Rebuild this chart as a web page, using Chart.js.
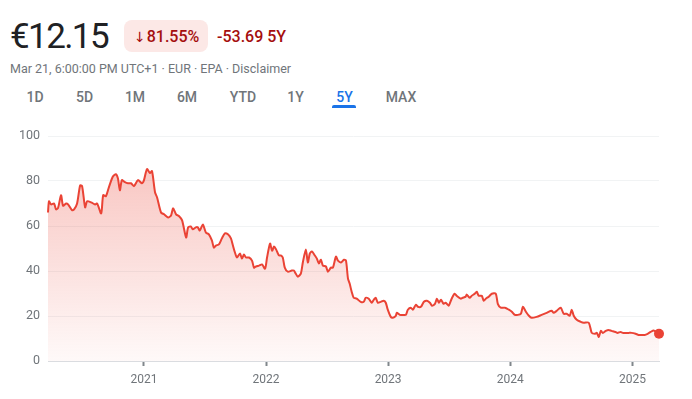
<!DOCTYPE html>
<html>
<head>
<meta charset="utf-8">
<script src="https://cdn.jsdelivr.net/npm/chart.js@4.4.1/dist/chart.umd.min.js"></script>
<style>
  html, body { margin: 0; padding: 0; background: #fff; }
  body { width: 692px; height: 399px; position: relative; overflow: hidden; font-family: Roboto, Arial, sans-serif; }
  .price { position: absolute; left: 10px; top: 16px; font-size: 35px; color: #202124; letter-spacing: -1.6px; }
  .badge { position: absolute; left: 124px; top: 20px; width: 84px; height: 32px; border-radius: 8px; background: #fce8e6; }
  .badge span, .change { position: absolute; top: 27px; font-size: 16px; font-weight: 500; color: #a50e0e; }
  .badge span { left: 10px; top: 7px; }
  .badge .arrow { position: static; font-family: 'DejaVu Sans', sans-serif; font-size: 14px; margin-right: 1px; }
  .change { left: 217px; }
  .meta { position: absolute; left: 10px; top: 61px; font-size: 12.5px; color: #70757a; }
  .tab { position: absolute; top: 89px; font-size: 14px; font-weight: 500; color: #70757a; transform: translateX(-50%); }
  .tab.active { color: #1a73e8; }
  .underline { position: absolute; left: 332px; top: 105px; width: 24px; height: 3px; border-radius: 2px 2px 0 0; background: #1a73e8; }
  .chart-box { position: absolute; left: 0; top: 120px; width: 692px; height: 279px; }
</style>
</head>
<body>
<div class="price">€12.15</div>
<div class="badge"><span><span class="arrow">↓</span>81.55%</span></div>
<div class="change">-53.69 5Y</div>
<div class="meta">Mar 21, 6:00:00 PM UTC+1 · EUR · EPA · Disclaimer</div>
<div id="tabs"></div>
<div class="underline"></div>
<div class="chart-box"><canvas id="priceChart"></canvas></div>

<script>
const RANGE_TABS = ['1D', '5D', '1M', '6M', 'YTD', '1Y', '5Y', 'MAX'];
const TAB_CENTERS = [35, 84.5, 135, 187, 243, 295.5, 344.5, 401];
const ACTIVE_TAB = '5Y';

const START_DATE = '2020-03-20';
const END_DATE = '2025-03-21';
const YEAR_TICKS = [2021, 2022, 2023, 2024, 2025];
const PRICE_TICKS = [0, 20, 40, 60, 80, 100];

// closes
const dates = [
  '2020-03-20', '2020-03-23', '2020-03-29', '2020-04-07', '2020-04-13', '2020-04-19', '2020-04-28', '2020-05-04',
  '2020-05-13', '2020-05-19', '2020-05-31', '2020-06-06', '2020-06-15', '2020-06-24', '2020-06-30', '2020-07-09',
  '2020-07-15', '2020-07-27', '2020-08-08', '2020-08-14', '2020-08-26', '2020-09-01', '2020-09-09', '2020-09-18',
  '2020-09-30', '2020-10-09', '2020-10-15', '2020-10-21', '2020-10-27', '2020-11-05', '2020-11-14', '2020-11-23',
  '2020-12-02', '2020-12-14', '2020-12-26', '2021-01-01', '2021-01-10', '2021-01-19', '2021-01-25', '2021-02-03',
  '2021-02-09', '2021-02-21', '2021-03-02', '2021-03-14', '2021-03-23', '2021-03-29', '2021-04-07', '2021-04-16',
  '2021-04-25', '2021-05-07', '2021-05-13', '2021-05-21', '2021-05-27', '2021-06-05', '2021-06-11', '2021-06-17',
  '2021-06-26', '2021-07-05', '2021-07-14', '2021-07-23', '2021-07-29', '2021-08-04', '2021-08-13', '2021-08-22',
  '2021-08-31', '2021-09-09', '2021-09-18', '2021-09-24', '2021-09-30', '2021-10-06', '2021-10-15', '2021-10-21',
  '2021-10-27', '2021-11-02', '2021-11-11', '2021-11-20', '2021-11-26', '2021-12-02', '2021-12-11', '2021-12-20',
  '2021-12-29', '2022-01-04', '2022-01-13', '2022-01-19', '2022-01-25', '2022-01-31', '2022-02-08', '2022-02-14',
  '2022-02-20', '2022-02-26', '2022-03-07', '2022-03-19', '2022-03-25', '2022-03-31', '2022-04-06', '2022-04-15',
  '2022-04-21', '2022-04-30', '2022-05-06', '2022-05-12', '2022-05-18', '2022-05-27', '2022-06-02', '2022-06-08',
  '2022-06-14', '2022-06-20', '2022-06-29', '2022-07-05', '2022-07-14', '2022-07-20', '2022-07-29', '2022-08-04',
  '2022-08-13', '2022-08-22', '2022-08-28', '2022-09-03', '2022-09-08', '2022-09-14', '2022-09-20', '2022-09-29',
  '2022-10-11', '2022-10-20', '2022-10-26', '2022-11-04', '2022-11-13', '2022-11-19', '2022-11-25', '2022-12-01',
  '2022-12-10', '2022-12-19', '2022-12-25', '2022-12-31', '2023-01-09', '2023-01-15', '2023-01-24', '2023-01-27',
  '2023-02-05', '2023-02-14', '2023-02-23', '2023-03-01', '2023-03-10', '2023-03-16', '2023-03-25', '2023-03-31',
  '2023-04-09', '2023-04-18', '2023-04-27', '2023-05-06', '2023-05-12', '2023-05-21', '2023-05-27', '2023-06-02',
  '2023-06-08', '2023-06-16', '2023-06-22', '2023-07-01', '2023-07-10', '2023-07-19', '2023-07-25', '2023-08-06',
  '2023-08-12', '2023-08-21', '2023-08-24', '2023-09-02', '2023-09-08', '2023-09-17', '2023-09-23', '2023-09-29',
  '2023-10-08', '2023-10-14', '2023-10-20', '2023-10-29', '2023-11-07', '2023-11-19', '2023-11-25', '2023-12-04',
  '2023-12-16', '2023-12-28', '2024-01-06', '2024-01-15', '2024-01-24', '2024-02-02', '2024-02-08', '2024-02-17',
  '2024-02-26', '2024-03-05', '2024-03-20', '2024-04-04', '2024-04-19', '2024-05-04', '2024-05-10', '2024-05-19',
  '2024-05-31', '2024-06-09', '2024-06-18', '2024-06-27', '2024-07-03', '2024-07-09', '2024-07-18', '2024-07-30',
  '2024-08-08', '2024-08-23', '2024-09-01', '2024-09-10', '2024-09-16', '2024-09-22', '2024-09-28', '2024-10-04',
  '2024-10-13', '2024-10-21', '2024-10-30', '2024-11-11', '2024-11-17', '2024-11-26', '2024-12-02', '2024-12-11',
  '2024-12-20', '2024-12-29', '2025-01-10', '2025-01-19', '2025-01-28', '2025-02-06', '2025-02-15', '2025-02-24',
  '2025-03-05', '2025-03-21',
];

const closes = [
  66, 71, 69.6, 70, 67.4, 68, 73.7, 69,
  70, 69.6, 67, 67.4, 70, 78, 77.7, 68.3,
  71, 70.5, 69.6, 70, 65.6, 73.7, 73.2, 77.2,
  82, 83, 81.2, 75.9, 80.4, 79.5, 79, 79,
  77.7, 80.4, 79, 80.4, 85.3, 83.5, 84.4, 75,
  72.8, 66, 65.2, 63.8, 64.7, 67.9, 65.2, 64.3,
  62.5, 54.9, 59.4, 59.8, 58.5, 59.4, 59.4, 58,
  60.7, 57.1, 56.3, 53.6, 50.4, 51.3, 51.8, 54.5,
  56.7, 56.3, 54.5, 51.3, 48.2, 46, 47.8, 45.5,
  47.3, 46, 46, 44.6, 41.5, 42, 42.4, 42.9,
  41, 46, 52.2, 49, 50.9, 49.6, 47, 46.9,
  46, 41.5, 39.7, 40.2, 40.2, 38.8, 37.5, 38.8,
  43.8, 49.6, 43.8, 47.8, 48.7, 46.9, 45.5, 43.3,
  45, 42.4, 42, 39.7, 41.5, 41.5, 46.4, 44.6,
  43.8, 45, 44.6, 36.6, 34.4, 30.8, 28.1, 27.7,
  26.3, 26.3, 28.1, 27.7, 25.9, 27.2, 28.1, 25.9,
  26.3, 26.8, 25.9, 22.8, 19.6, 19.2, 20.1, 21.4,
  20.5, 20.5, 20.5, 22.8, 23.7, 22.8, 25, 24.1,
  24.1, 26.3, 26.8, 25.9, 24.6, 25.4, 27.7, 25.9,
  27.2, 25.4, 25.9, 24.6, 27.7, 29.9, 29, 27.7,
  28.1, 28.6, 29.5, 28.1, 29, 29.9, 30.8, 29,
  29, 26.8, 27.7, 28.6, 29.9, 29.9, 25.4, 23.7,
  23.7, 22.8, 21.9, 20.5, 20.5, 21, 24.1, 21.9,
  20.1, 19.2, 19.6, 20.5, 21.4, 22.3, 21.4, 22.3,
  23.7, 21, 21, 20.1, 22.8, 20.1, 18.3, 17.4,
  17, 17, 12.5, 12.1, 12.5, 10.7, 13.4, 12.5,
  13.4, 13.8, 13.4, 12.9, 12.5, 12.9, 12.5, 12.5,
  12.5, 12.5, 12.1, 11.6, 11.6, 11.6, 12.1, 12.9,
  13.6, 12.15,
];

const LINE_COLOR = '#ea4335';
const TEXT_COLOR = '#70757a';

function renderTabs() {
  const holder = document.getElementById('tabs');
  RANGE_TABS.forEach((label, i) => {
    const el = document.createElement('span');
    el.className = label === ACTIVE_TAB ? 'tab active' : 'tab';
    el.style.left = TAB_CENTERS[i] + 'px';
    el.textContent = label;
    holder.appendChild(el);
  });
}

function areaGradient(context) {
  const { chart } = context;
  const { ctx, chartArea } = chart;
  if (!chartArea) return 'rgba(234, 67, 53, 0.15)';
  const g = ctx.createLinearGradient(0, chartArea.top, 0, chartArea.bottom);
  g.addColorStop(0, 'rgba(234, 67, 53, 0.34)');
  g.addColorStop(1, 'rgba(234, 67, 53, 0.03)');
  return g;
}

function renderChart() {
  const points = dates.map((d, i) => ({ x: Date.parse(d), y: closes[i] }));
  const last = points.length - 1;

  new Chart(document.getElementById('priceChart'), {
    type: 'line',
    data: {
      datasets: [{
        data: points,
        borderColor: LINE_COLOR,
        borderWidth: 2,
        tension: 0.25,
        fill: 'origin',
        clip: 10,
        backgroundColor: areaGradient,
        pointRadius: (ctx) => (ctx.dataIndex === last ? 5 : 0),
        pointHoverRadius: 5,
        pointBackgroundColor: LINE_COLOR,
        pointBorderWidth: 0,
      }],
    },
    options: {
      responsive: true,
      maintainAspectRatio: false,
      animation: false,
      layout: { padding: { top: 16, right: 33, bottom: 5, left: 0 } },
      scales: {
        x: {
          type: 'linear',
          min: Date.parse(START_DATE),
          max: Date.parse(END_DATE),
          afterBuildTicks(scale) {
            scale.ticks = YEAR_TICKS.map((y) => ({ value: Date.UTC(y, 0, 1) }));
          },
          afterFit(scale) { scale.height = 33; },
          border: { display: true, color: '#dadce0', width: 1 },
          grid: {
            drawOnChartArea: false,
            drawTicks: true,
            tickLength: 5,
            tickWidth: 2,
            tickColor: '#80868b',
          },
          ticks: {
            autoSkip: false,
            maxRotation: 0,
            padding: 7,
            color: TEXT_COLOR,
            font: { family: 'Roboto', size: 12 },
            callback: (value) => new Date(value).getUTCFullYear(),
          },
        },
        y: {
          min: 0,
          max: 100,
          afterBuildTicks(scale) {
            scale.ticks = PRICE_TICKS.map((v) => ({ value: v }));
          },
          afterFit(scale) { scale.width = 48; },
          border: { display: false },
          grid: { color: '#f1f3f4', lineWidth: 1, drawTicks: false },
          ticks: {
            padding: 8,
            color: TEXT_COLOR,
            font: { family: 'Roboto', size: 12.5 },
          },
        },
      },
      plugins: {
        legend: { display: false },
        tooltip: { enabled: false },
      },
    },
  });
}

renderTabs();
renderChart();
</script>
</body>
</html>
